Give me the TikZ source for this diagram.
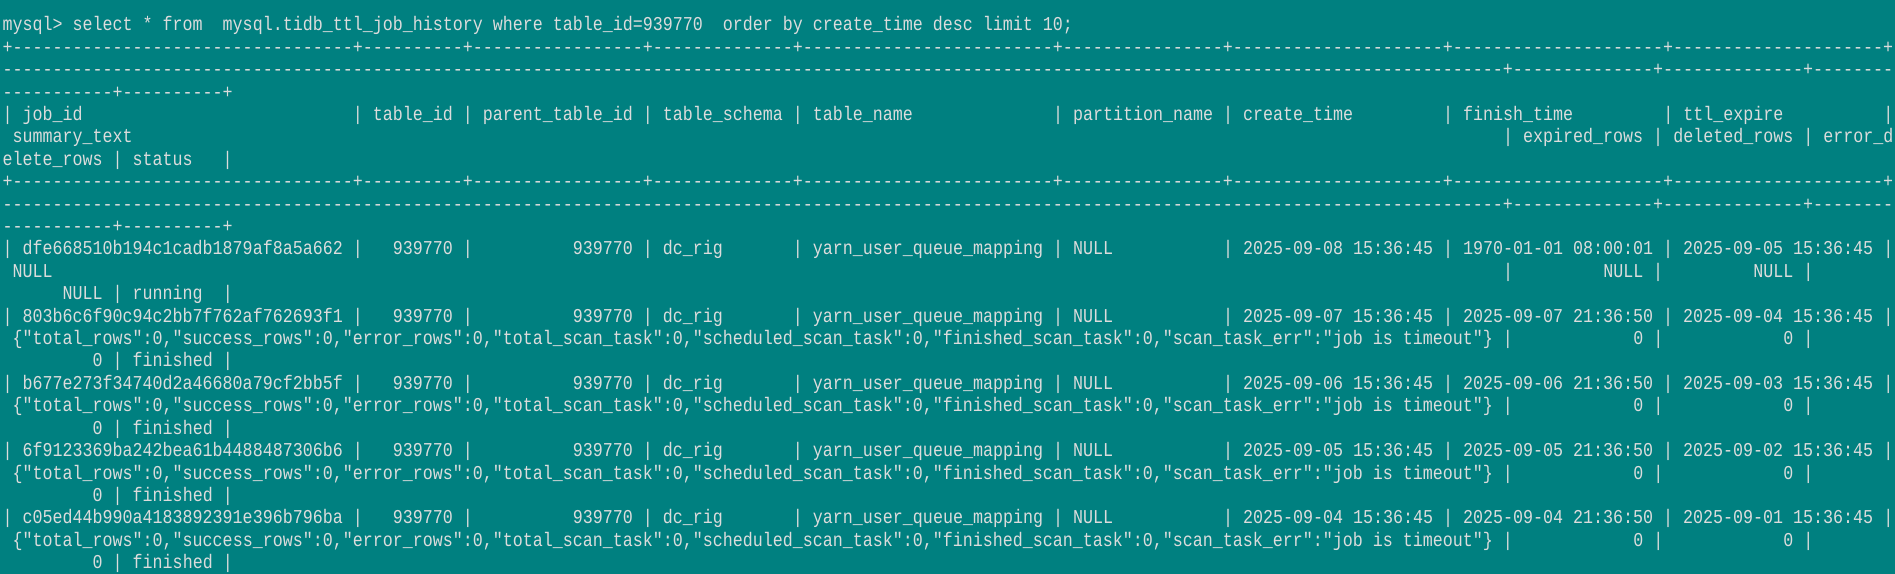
\documentclass[tikz,border=0pt]{standalone}
\usepackage{fontspec}
\setmonofont{Liberation Mono}[FakeStretch=0.85]
\usepackage{tikz}
\definecolor{termbg}{RGB}{0,128,128}
\definecolor{termfg}{RGB}{220,220,220}
\newcommand{\sk}[1]{\hspace*{#1\fontcharwd\font`0}}
\ExplSyntaxOn
\newcommand{\dashrun}[1]{\prg_replicate:nn{#1}{-}}
\ExplSyntaxOff
% the three wrapped pieces of the table rule
\newcommand{\rulea}{+\dashrun{34}+\dashrun{10}+\dashrun{17}+\dashrun{14}+\dashrun{25}+\dashrun{16}+\dashrun{21}+\dashrun{21}+\dashrun{21}+}
\newcommand{\ruleb}{\dashrun{150}+\dashrun{14}+\dashrun{14}+\dashrun{8}}
\newcommand{\rulec}{\dashrun{11}+\dashrun{10}+}
\newcommand{\jobrow}[4]{| #1 |\sk{3}939770 |\sk{10}939770 | dc\_rig\sk{7}| yarn\_user\_queue\_mapping | NULL\sk{11}| #2 | #3 | #4 |}
\newcommand{\jobsummary}{\sk{1}\{"total\_rows":0,"success\_rows":0,"error\_rows":0,"total\_scan\_task":0,"scheduled\_scan\_task":0,"finished\_scan\_task":0,"scan\_task\_err":"job is timeout"\} |\sk{12}0 |\sk{12}0 |}

\begin{document}
\begin{tikzpicture}[term/.style={anchor=base west,inner sep=0pt,text=termfg,font=\ttfamily\frenchspacing\fontsize{5.58pt}{6pt}\selectfont}]
    \fill[termbg](0,0)rectangle(18.95,5.74);
    \useasboundingbox(0,0)rectangle(18.95,5.74);
    \node[term](prompt) at (0.02,5.430){mysql> select * from\sk{2}mysql.tidb\_ttl\_job\_history where table\_id=939770\sk{2}order by create\_time desc limit 10;};
    % header
    \node[term](topa) at (0.02,5.206){\rulea};
    \node[term](topb) at (0.02,4.982){\ruleb};
    \node[term](topc) at (0.02,4.758){\rulec};
    \node[term](heada) at (0.02,4.534){| job\_id\sk{27}| table\_id | parent\_table\_id | table\_schema | table\_name\sk{14}| partition\_name | create\_time\sk{9}| finish\_time\sk{9}| ttl\_expire\sk{10}|};
    \node[term](headb) at (0.02,4.310){\sk{1}summary\_text\sk{137}| expired\_rows | deleted\_rows | error\_d};
    \node[term](headc) at (0.02,4.086){elete\_rows | status\sk{3}|};
    \node[term](mida) at (0.02,3.862){\rulea};
    \node[term](midb) at (0.02,3.638){\ruleb};
    \node[term](midc) at (0.02,3.414){\rulec};
    % rows
    \node[term](onea) at (0.02,3.190){\jobrow{dfe668510b194c1cadb1879af8a5a662}{2025-09-08 15:36:45}{1970-01-01 08:00:01}{2025-09-05 15:36:45}};
    \node[term](oneb) at (0.02,2.966){\sk{1}NULL\sk{145}|\sk{9}NULL |\sk{9}NULL |};
    \node[term](onec) at (0.02,2.742){\sk{6}NULL | running\sk{2}|};
    \node[term](twoa) at (0.02,2.518){\jobrow{803b6c6f90c94c2bb7f762af762693f1}{2025-09-07 15:36:45}{2025-09-07 21:36:50}{2025-09-04 15:36:45}};
    \node[term](twob) at (0.02,2.294){\jobsummary};
    \node[term](twoc) at (0.02,2.070){\sk{9}0 | finished |};
    \node[term](threea) at (0.02,1.846){\jobrow{b677e273f34740d2a46680a79cf2bb5f}{2025-09-06 15:36:45}{2025-09-06 21:36:50}{2025-09-03 15:36:45}};
    \node[term](threeb) at (0.02,1.622){\jobsummary};
    \node[term](threec) at (0.02,1.398){\sk{9}0 | finished |};
    \node[term](foura) at (0.02,1.174){\jobrow{6f9123369ba242bea61b4488487306b6}{2025-09-05 15:36:45}{2025-09-05 21:36:50}{2025-09-02 15:36:45}};
    \node[term](fourb) at (0.02,0.950){\jobsummary};
    \node[term](fourc) at (0.02,0.726){\sk{9}0 | finished |};
    \node[term](fivea) at (0.02,0.502){\jobrow{c05ed44b990a4183892391e396b796ba}{2025-09-04 15:36:45}{2025-09-04 21:36:50}{2025-09-01 15:36:45}};
    \node[term](fiveb) at (0.02,0.278){\jobsummary};
    \node[term](fivec) at (0.02,0.054){\sk{9}0 | finished |};
\end{tikzpicture}
\end{document}
